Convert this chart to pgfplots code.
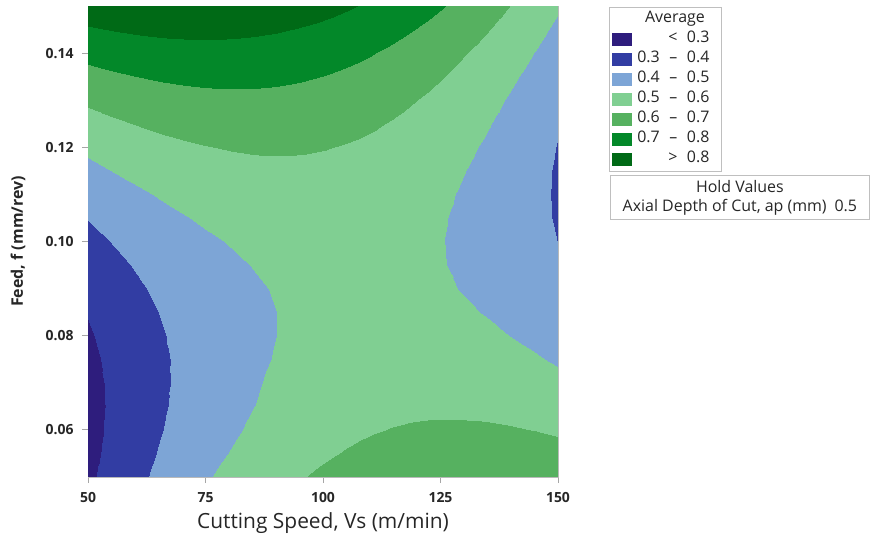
\documentclass[border=0pt]{standalone}
\usepackage{fontspec}
\setmainfont{Open Sans}
\usepackage{pgfplots}
\pgfplotsset{compat=1.18}
\definecolor{c1}{RGB}{46,29,125}
\definecolor{c2}{RGB}{50,61,163}
\definecolor{c3}{RGB}{125,165,214}
\definecolor{c4}{RGB}{128,207,146}
\definecolor{c5}{RGB}{86,177,96}
\definecolor{c6}{RGB}{3,136,41}
\definecolor{c7}{RGB}{0,106,22}
\pgfplotsset{colormap={mtb}{rgb255(0cm)=(46,29,125) rgb255(1cm)=(50,61,163) rgb255(2cm)=(125,165,214) rgb255(3cm)=(128,207,146) rgb255(4cm)=(86,177,96) rgb255(5cm)=(3,136,41) rgb255(6cm)=(0,106,22) rgb255(7cm)=(0,106,22)}}
\newcommand{\lent}[1]{\makebox[80bp][r]{#1\hspace{7.5bp}}}
\newcommand{\rng}[2]{#1\hspace{0.6em}–\hspace{0.6em}#2}
\begin{document}
\begin{tikzpicture}
\begin{axis}[
 scale only axis, width=470bp, height=471bp,
 xmin=50, xmax=150, ymin=0.05, ymax=0.15,
 xtick={50,75,100,125,150}, xticklabels={50,75,100,125,150},
 ytick={0.06,0.08,0.10,0.12,0.14}, yticklabels={0.06,0.08,0.10,0.12,0.14},
 tick align=outside, major tick length=6bp,
 xtick pos=bottom, ytick pos=left,
 tick style={color=gray!70, line width=0.8bp},
 axis line style={gray!55, line width=0.8bp},
 ticklabel style={font=\fontsize{14}{16}\selectfont\bfseries, text=black!85},
 yticklabel style={xshift=-5bp},
 xticklabel style={yshift=-6bp},
 xlabel={Cutting Speed, Vs (m/min)}, ylabel={Feed, f (mm/rev)},
 every axis x label/.style={at={(axis description cs:0.5,-0.098)}, anchor=center, font=\fontsize{21}{24}\selectfont, text=black!85},
 every axis y label/.style={at={(axis description cs:-0.149,0.5)}, rotate=90, anchor=center, font=\fontsize{16}{19}\selectfont\bfseries, text=black!85},
 colormap name=mtb, colormap access=piecewise constant,
 point meta min=0.2, point meta max=0.9,
 legend style={at={(axis description cs:1.1085,0.9979)}, anchor=north west, draw=gray!50, line width=0.8bp,
   font=\fontsize{16}{18}\selectfont, text=black!85, inner xsep=3bp, inner ysep=2bp, row sep=0bp,
   nodes={inner sep=1.5bp, text height=12bp, text depth=5bp},
   /tikz/every odd column/.append style={column sep=3bp}},
 legend cell align=right,
 legend image code/.code={\fill[#1, draw=none] (0bp,-6.5bp) rectangle (20bp,6.5bp);},
]
\addplot[surf, shader=interp, mesh/cols=21, point meta=explicit, forget plot] table[x=x, y=y, meta=z] {
x y z
50 0.05 0.2830
55 0.05 0.3305
60 0.05 0.3752
65 0.05 0.4169
70 0.05 0.4556
75 0.05 0.4915
80 0.05 0.5208
85 0.05 0.5473
90 0.05 0.5696
95 0.05 0.5937
100 0.05 0.6150
105 0.05 0.6333
110 0.05 0.6488
115 0.05 0.6613
120 0.05 0.6708
125 0.05 0.6775
130 0.05 0.6812
135 0.05 0.6839
140 0.05 0.6836
145 0.05 0.6809
150 0.05 0.6748

50 0.055 0.2744
55 0.055 0.3201
60 0.055 0.3629
65 0.055 0.4028
70 0.055 0.4396
75 0.055 0.4737
80 0.055 0.5011
85 0.055 0.5258
90 0.055 0.5462
95 0.055 0.5685
100 0.055 0.5879
105 0.055 0.6044
110 0.055 0.6180
115 0.055 0.6287
120 0.055 0.6363
125 0.055 0.6412
130 0.055 0.6430
135 0.055 0.6439
140 0.055 0.6417
145 0.055 0.6372
150 0.055 0.6292

50 0.06 0.2696
55 0.06 0.3134
60 0.06 0.3544
65 0.06 0.3924
70 0.06 0.4274
75 0.06 0.4596
80 0.06 0.4861
85 0.06 0.5098
90 0.06 0.5296
95 0.06 0.5500
100 0.06 0.5676
105 0.06 0.5822
110 0.06 0.5940
115 0.06 0.6028
120 0.06 0.6086
125 0.06 0.6116
130 0.06 0.6116
135 0.06 0.6101
140 0.06 0.6057
145 0.06 0.5987
150 0.06 0.5884

50 0.065 0.2688
55 0.065 0.3108
60 0.065 0.3499
65 0.065 0.3861
70 0.065 0.4192
75 0.065 0.4496
80 0.065 0.4751
85 0.065 0.4979
90 0.065 0.5170
95 0.065 0.5356
100 0.065 0.5513
105 0.065 0.5641
110 0.065 0.5740
115 0.065 0.5810
120 0.065 0.5849
125 0.065 0.5861
130 0.065 0.5842
135 0.065 0.5805
140 0.065 0.5737
145 0.065 0.5643
150 0.065 0.5517

50 0.07 0.2720
55 0.07 0.3121
60 0.07 0.3494
65 0.07 0.3837
70 0.07 0.4150
75 0.07 0.4435
80 0.07 0.4690
85 0.07 0.4917
90 0.07 0.5114
95 0.07 0.5281
100 0.07 0.5420
105 0.07 0.5529
110 0.07 0.5610
115 0.07 0.5661
120 0.07 0.5682
125 0.07 0.5675
130 0.07 0.5638
135 0.07 0.5573
140 0.07 0.5478
145 0.07 0.5353
150 0.07 0.5200

50 0.075 0.2790
55 0.075 0.3173
60 0.075 0.3527
65 0.075 0.3852
70 0.075 0.4146
75 0.075 0.4413
80 0.075 0.4649
85 0.075 0.4858
90 0.075 0.5036
95 0.075 0.5185
100 0.075 0.5305
105 0.075 0.5396
110 0.075 0.5458
115 0.075 0.5491
120 0.075 0.5493
125 0.075 0.5468
130 0.075 0.5412
135 0.075 0.5329
140 0.075 0.5215
145 0.075 0.5072
150 0.075 0.4900

50 0.08 0.2900
55 0.08 0.3264
60 0.08 0.3600
65 0.08 0.3906
70 0.08 0.4182
75 0.08 0.4430
80 0.08 0.4648
85 0.08 0.4838
90 0.08 0.4998
95 0.08 0.5128
100 0.08 0.5230
105 0.08 0.5302
110 0.08 0.5346
115 0.08 0.5360
120 0.08 0.5344
125 0.08 0.5300
130 0.08 0.5226
135 0.08 0.5124
140 0.08 0.4992
145 0.08 0.4830
150 0.08 0.4640

50 0.085 0.3048
55 0.085 0.3394
60 0.085 0.3711
65 0.085 0.3999
70 0.085 0.4256
75 0.085 0.4486
80 0.085 0.4685
85 0.085 0.4857
90 0.085 0.4998
95 0.085 0.5110
100 0.085 0.5193
105 0.085 0.5247
110 0.085 0.5272
115 0.085 0.5268
120 0.085 0.5233
125 0.085 0.5171
130 0.085 0.5078
135 0.085 0.4958
140 0.085 0.4807
145 0.085 0.4627
150 0.085 0.4418

50 0.09 0.3236
55 0.09 0.3563
60 0.09 0.3862
65 0.09 0.4131
70 0.09 0.4370
75 0.09 0.4581
80 0.09 0.4762
85 0.09 0.4915
90 0.09 0.5038
95 0.09 0.5131
100 0.09 0.5196
105 0.09 0.5231
110 0.09 0.5238
115 0.09 0.5215
120 0.09 0.5162
125 0.09 0.5081
130 0.09 0.4970
135 0.09 0.4831
140 0.09 0.4662
145 0.09 0.4463
150 0.09 0.4236

50 0.095 0.3464
55 0.095 0.3773
60 0.095 0.4053
65 0.095 0.4304
70 0.095 0.4524
75 0.095 0.4717
80 0.095 0.4879
85 0.095 0.5014
90 0.095 0.5118
95 0.095 0.5193
100 0.095 0.5239
105 0.095 0.5256
110 0.095 0.5244
115 0.095 0.5203
120 0.095 0.5131
125 0.095 0.5032
130 0.095 0.4902
135 0.095 0.4745
140 0.095 0.4557
145 0.095 0.4340
150 0.095 0.4094

50 0.10 0.3730
55 0.10 0.4020
60 0.10 0.4282
65 0.10 0.4514
70 0.10 0.4716
75 0.10 0.4890
80 0.10 0.5034
85 0.10 0.5150
90 0.10 0.5236
95 0.10 0.5292
100 0.10 0.5320
105 0.10 0.5318
110 0.10 0.5288
115 0.10 0.5228
120 0.10 0.5138
125 0.10 0.5020
130 0.10 0.4872
135 0.10 0.4696
140 0.10 0.4490
145 0.10 0.4254
150 0.10 0.3990

50 0.105 0.4036
55 0.105 0.4308
60 0.105 0.4551
65 0.105 0.4765
70 0.105 0.4948
75 0.105 0.5104
80 0.105 0.5229
85 0.105 0.5327
90 0.105 0.5394
95 0.105 0.5432
100 0.105 0.5441
105 0.105 0.5421
110 0.105 0.5372
115 0.105 0.5294
120 0.105 0.5185
125 0.105 0.5049
130 0.105 0.4882
135 0.105 0.4688
140 0.105 0.4463
145 0.105 0.4209
150 0.105 0.3926

50 0.11 0.4380
55 0.11 0.4633
60 0.11 0.4858
65 0.11 0.5053
70 0.11 0.5218
75 0.11 0.5355
80 0.11 0.5462
85 0.11 0.5541
90 0.11 0.5590
95 0.11 0.5609
100 0.11 0.5600
105 0.11 0.5561
110 0.11 0.5494
115 0.11 0.5397
120 0.11 0.5270
125 0.11 0.5115
130 0.11 0.4930
135 0.11 0.4717
140 0.11 0.4474
145 0.11 0.4201
150 0.11 0.3900

50 0.115 0.4764
55 0.115 0.4999
60 0.115 0.5205
65 0.115 0.5382
70 0.115 0.5528
75 0.115 0.5647
80 0.115 0.5735
85 0.115 0.5796
90 0.115 0.5826
95 0.115 0.5827
100 0.115 0.5799
105 0.115 0.5742
110 0.115 0.5656
115 0.115 0.5541
120 0.115 0.5395
125 0.115 0.5222
130 0.115 0.5018
135 0.115 0.4787
140 0.115 0.4525
145 0.115 0.4234
150 0.115 0.3914

50 0.12 0.5188
55 0.12 0.5404
60 0.12 0.5592
65 0.12 0.5750
70 0.12 0.5878
75 0.12 0.5978
80 0.12 0.6048
85 0.12 0.6090
90 0.12 0.6102
95 0.12 0.6084
100 0.12 0.6038
105 0.12 0.5962
110 0.12 0.5858
115 0.12 0.5724
120 0.12 0.5560
125 0.12 0.5368
130 0.12 0.5146
135 0.12 0.4896
140 0.12 0.4616
145 0.12 0.4306
150 0.12 0.3968

50 0.125 0.5650
55 0.125 0.5848
60 0.125 0.6017
65 0.125 0.6157
70 0.125 0.6266
75 0.125 0.6348
80 0.125 0.6399
85 0.125 0.6423
90 0.125 0.6416
95 0.125 0.6380
100 0.125 0.6315
105 0.125 0.6221
110 0.125 0.6098
115 0.125 0.5946
120 0.125 0.5763
125 0.125 0.5553
130 0.125 0.5312
135 0.125 0.5044
140 0.125 0.4745
145 0.125 0.4417
150 0.125 0.4060

50 0.13 0.6152
55 0.13 0.6331
60 0.13 0.6482
65 0.13 0.6603
70 0.13 0.6694
75 0.13 0.6757
80 0.13 0.6790
85 0.13 0.6795
90 0.13 0.6770
95 0.13 0.6715
100 0.13 0.6632
105 0.13 0.6519
110 0.13 0.6378
115 0.13 0.6207
120 0.13 0.6006
125 0.13 0.5777
130 0.13 0.5518
135 0.13 0.5231
140 0.13 0.4914
145 0.13 0.4567
150 0.13 0.4192

50 0.135 0.6692
55 0.135 0.6853
60 0.135 0.6985
65 0.135 0.7088
70 0.135 0.7160
75 0.135 0.7205
80 0.135 0.7219
85 0.135 0.7206
90 0.135 0.7162
95 0.135 0.7089
100 0.135 0.6987
105 0.135 0.6856
110 0.135 0.6696
115 0.135 0.6507
120 0.135 0.6287
125 0.135 0.6040
130 0.135 0.5762
135 0.135 0.5457
140 0.135 0.5121
145 0.135 0.4756
150 0.135 0.4362

50 0.14 0.7272
55 0.14 0.7414
60 0.14 0.7528
65 0.14 0.7612
70 0.14 0.7666
75 0.14 0.7692
80 0.14 0.7688
85 0.14 0.7656
90 0.14 0.7594
95 0.14 0.7502
100 0.14 0.7382
105 0.14 0.7232
110 0.14 0.7054
115 0.14 0.6846
120 0.14 0.6608
125 0.14 0.6342
130 0.14 0.6046
135 0.14 0.5722
140 0.14 0.5368
145 0.14 0.4984
150 0.14 0.4572

50 0.145 0.7892
55 0.145 0.8016
60 0.145 0.8111
65 0.145 0.8177
70 0.145 0.8212
75 0.145 0.8220
80 0.145 0.8197
85 0.145 0.8147
90 0.145 0.8066
95 0.145 0.7956
100 0.145 0.7817
105 0.145 0.7649
110 0.145 0.7452
115 0.145 0.7226
120 0.145 0.6969
125 0.145 0.6685
130 0.145 0.6370
135 0.145 0.6028
140 0.145 0.5655
145 0.145 0.5253
150 0.145 0.4822

50 0.15 0.8550
55 0.15 0.8655
60 0.15 0.8732
65 0.15 0.8779
70 0.15 0.8796
75 0.15 0.8785
80 0.15 0.8744
85 0.15 0.8675
90 0.15 0.8576
95 0.15 0.8447
100 0.15 0.8290
105 0.15 0.8103
110 0.15 0.7888
115 0.15 0.7643
120 0.15 0.7368
125 0.15 0.7065
130 0.15 0.6732
135 0.15 0.6371
140 0.15 0.5980
145 0.15 0.5559
150 0.15 0.5110
};
\addlegendimage{empty legend}\addlegendentry{\makebox[80bp][r]{Average\hspace{12bp}}}
\addlegendimage{fill=c1}\addlegendentry{\lent{<\hspace{0.6em}0.3}}
\addlegendimage{fill=c2}\addlegendentry{\lent{\rng{0.3}{0.4}}}
\addlegendimage{fill=c3}\addlegendentry{\lent{\rng{0.4}{0.5}}}
\addlegendimage{fill=c4}\addlegendentry{\lent{\rng{0.5}{0.6}}}
\addlegendimage{fill=c5}\addlegendentry{\lent{\rng{0.6}{0.7}}}
\addlegendimage{fill=c6}\addlegendentry{\lent{\rng{0.7}{0.8}}}
\addlegendimage{fill=c7}\addlegendentry{\lent{>\hspace{0.6em}0.8}}
\end{axis}
\node[draw=gray!50, line width=0.8bp, anchor=north west, minimum width=259bp, minimum height=44bp, align=center, font=\fontsize{16}{19}\selectfont, text=black!85, inner sep=2bp] at (522bp,302bp) {Hold Values\\Axial Depth of Cut, ap (mm)\hspace{0.5em}0.5};
\pgfresetboundingbox
\useasboundingbox (-88bp,-62bp) rectangle (788bp,477bp);
\end{tikzpicture}
\end{document}
